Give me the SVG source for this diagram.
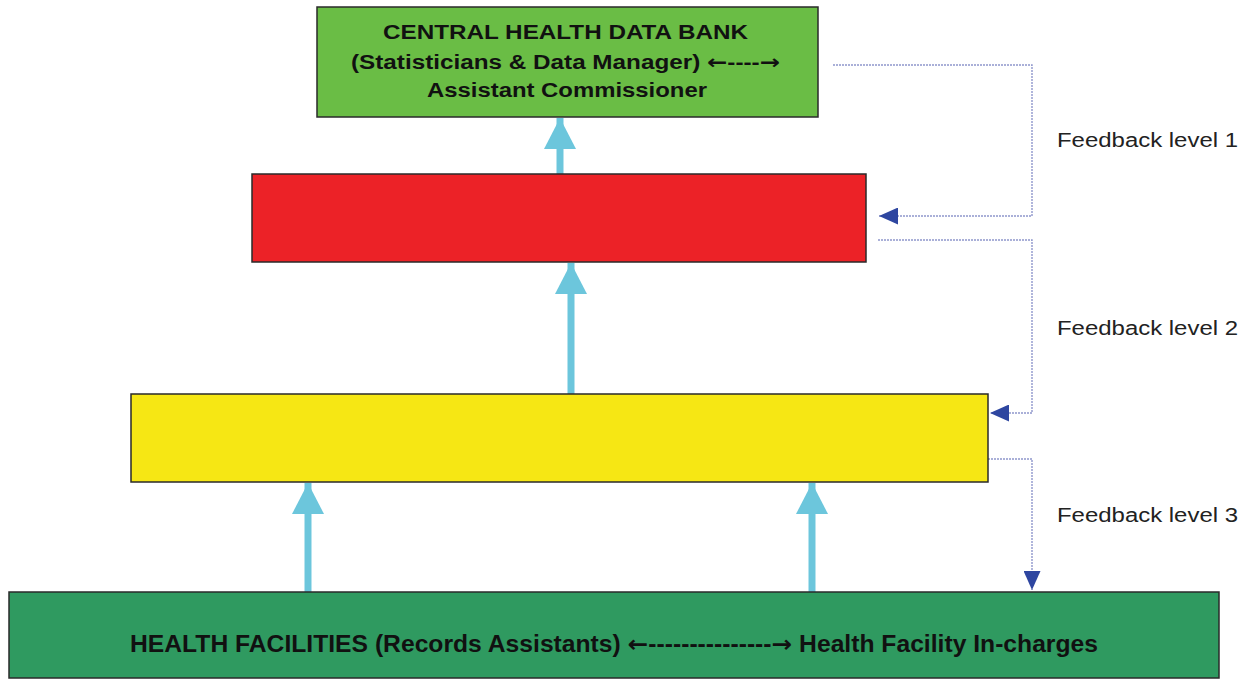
<svg xmlns="http://www.w3.org/2000/svg" width="1252" height="680" viewBox="0 0 1252 680">
  <style>
    .box { stroke: #2a2a2a; stroke-width: 1.5; }
    .title { font-family: "Liberation Sans", Arial, sans-serif; font-weight: bold; font-size: 20px; fill: #111; }
    .big { font-size: 23px; }
    .arr { font-family: "DejaVu Sans", sans-serif; font-weight: bold; }
    .label { font-family: "Liberation Sans", Arial, sans-serif; font-size: 20px; fill: #222; }
    .up { stroke: #6cc6dc; stroke-width: 7; fill: none; marker-end: url(#upHead); }
    .fb { stroke: #8f97cc; stroke-width: 1.4; stroke-dasharray: 2 1; fill: none; marker-end: url(#fbHead); }
  </style>
  <defs>
    <marker id="upHead" markerUnits="userSpaceOnUse" viewBox="0 0 31 32" markerWidth="31" markerHeight="32" refX="31" refY="16" orient="auto">
      <path d="M0,0 L31,16 L0,32 Z" fill="#6cc6dc"/>
    </marker>
    <marker id="fbHead" markerUnits="userSpaceOnUse" viewBox="0 0 19 17" markerWidth="19" markerHeight="17" refX="19" refY="8.5" orient="auto">
      <path d="M0,0 L19,8.5 L0,17 Z" fill="#2e46a0"/>
    </marker>
  </defs>
  <rect width="1252" height="680" fill="#ffffff"/>

  <g id="connectors">
    <line class="up" x1="560" y1="175" x2="560" y2="118"/>
    <line class="up" x1="571" y1="395" x2="571" y2="263"/>
    <line class="up" x1="308" y1="592" x2="308" y2="483"/>
    <line class="up" x1="812" y1="592" x2="812" y2="483"/>
    <polyline class="fb" points="833,65 1032,65 1032,216 879,216"/>
    <polyline class="fb" points="878,240 1032,240 1032,413 990,413"/>
    <polyline class="fb" points="988,459 1032,459 1032,590"/>
  </g>

  <g id="central-health-data-bank">
    <rect class="box" x="317" y="7" width="501" height="110" fill="#6abd45"/>
    <text class="title" x="383" y="39" textLength="365" lengthAdjust="spacingAndGlyphs">CENTRAL HEALTH DATA BANK</text>
    <text class="title" x="351" y="69" textLength="429" lengthAdjust="spacingAndGlyphs">(Statisticians &amp; Data Manager) <tspan class="arr">←</tspan>----<tspan class="arr">→</tspan></text>
    <text class="title" x="427" y="97" textLength="280" lengthAdjust="spacingAndGlyphs">Assistant Commissioner</text>
  </g>

  <g id="red-level">
    <rect class="box" x="252" y="174" width="614" height="88" fill="#ec2227"/>
  </g>

  <g id="yellow-level">
    <rect class="box" x="131" y="394" width="857" height="88" fill="#f6e714"/>
  </g>

  <g id="health-facilities">
    <rect class="box" x="9" y="592" width="1210" height="86" fill="#2f9a60"/>
    <text class="title big" x="130" y="652" textLength="968" lengthAdjust="spacingAndGlyphs">HEALTH FACILITIES (Records Assistants) <tspan class="arr">←</tspan>---------------<tspan class="arr">→</tspan> Health Facility In-charges</text>
  </g>

  <g id="feedback-labels">
    <text class="label" x="1057" y="147" textLength="181" lengthAdjust="spacingAndGlyphs">Feedback level 1</text>
    <text class="label" x="1057" y="335" textLength="181" lengthAdjust="spacingAndGlyphs">Feedback level 2</text>
    <text class="label" x="1057" y="522" textLength="181" lengthAdjust="spacingAndGlyphs">Feedback level 3</text>
  </g>
</svg>
